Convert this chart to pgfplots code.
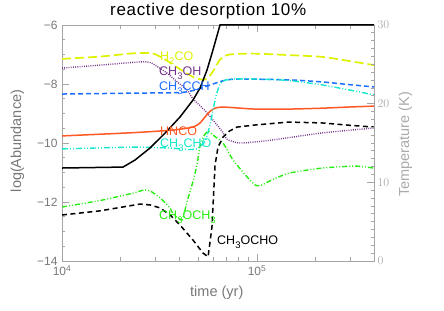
\documentclass[border=0pt]{standalone}
\usepackage{fontspec}
\setmainfont{Liberation Sans}
\usepackage{pgfplots}
\pgfplotsset{compat=1.18}
\definecolor{cHHCO}{RGB}{222,242,0}
\definecolor{cMeOH}{RGB}{118,52,140}
\definecolor{cCCH}{RGB}{30,110,255}
\definecolor{cHNCO}{RGB}{255,88,36}
\definecolor{cCHO}{RGB}{20,232,205}
\definecolor{cOCH}{RGB}{40,238,20}
\definecolor{axgray}{RGB}{165,165,165}
\definecolor{tickgray}{RGB}{120,120,120}
\definecolor{rgray}{RGB}{170,170,170}
\newcommand\lf{\fontsize{12.5bp}{14bp}\selectfont}
\newcommand\sub[1]{\raisebox{-4bp}{\fontsize{9.5bp}{10bp}\selectfont #1}}
\begin{document}
\begin{tikzpicture}
\useasboundingbox (0,0) rectangle (444bp,311bp);
\begin{axis}[
  at={(62bp,50bp)}, anchor=south west, scale only axis,
  width=312bp, height=236bp,
  xmode=log, xmin=1e4, xmax=3.981e5, ymin=-14, ymax=-6,
  xtick={1e4,1e5}, xticklabels={10\textsuperscript{4},10\textsuperscript{5}},
  minor xtick={2e4,3e4,4e4,5e4,6e4,7e4,8e4,9e4,2e5,3e5},
  ytick={-14,-12,-10,-8,-6}, yticklabels={−14,−12,−10,−8,−6},
  minor y tick num=3,
  ytick pos=left, tick align=inside,
  axis line style={draw=axgray, line width=0.8bp},
  tick style={draw=axgray, line width=0.8bp},
  major tick length=7bp, minor tick length=3.5bp,
  tick label style={font=\fontsize{12bp}{14bp}\selectfont, text=tickgray},
  yticklabel style={xshift=-1bp},
  xticklabel style={yshift=-1bp},
]
% H2CO
\addplot[cHHCO, line width=1.7bp, dash pattern=on 9bp off 4bp, smooth, tension=0.4] coordinates {
(10000,-7.15)(15670,-7.07)(23120,-6.96)(28260,-6.95)(30710,-7.02)(35810,-7.27)(40270,-7.50)(46960,-7.76)(51020,-7.84)(54080,-7.85)(57380,-7.72)(60920,-7.46)(64600,-7.17)(70170,-7.02)(78950,-6.98)(97720,-6.97)(145900,-7.02)(215400,-7.08)(296500,-7.22)(398100,-7.36)};
% CH3OH
\addplot[cMeOH, line width=1.4bp, dash pattern=on 0.9bp off 1.3bp, smooth, tension=0.4] coordinates {
(10000,-7.46)(15670,-7.36)(25120,-7.25)(28260,-7.27)(30710,-7.40)(34540,-7.63)(39000,-7.93)(43720,-8.20)(46960,-8.50)(54080,-8.90)(59430,-9.22)(66180,-9.60)(70170,-9.87)(78950,-9.99)(88920,-9.99)(119400,-9.90)(215400,-9.66)(398100,-9.49)};
% CH3CCH
\addplot[cCCH, line width=1.5bp, dash pattern=on 5bp off 3bp, smooth, tension=0.4] coordinates {
(10000,-8.34)(23120,-8.31)(40270,-8.29)(46960,-8.22)(51020,-8.15)(55400,-8.07)(59430,-8.0)(64600,-7.92)(70170,-7.86)(81820,-7.83)(145900,-7.86)(215400,-7.93)(296500,-8.02)(398100,-8.10)};
% HNCO
\addplot[cHNCO, line width=1.5bp, smooth, tension=0.4] coordinates {
(10000,-9.76)(23120,-9.65)(37090,-9.56)(46960,-9.46)(51020,-9.32)(54080,-9.12)(57380,-8.93)(60920,-8.82)(66180,-8.78)(78950,-8.81)(97720,-8.85)(145900,-8.85)(215400,-8.82)(296500,-8.78)(398100,-8.75)};
% CH3CHO
\addplot[cCHO, line width=1.4bp, dash pattern=on 6bp off 2bp on 1bp off 2bp on 1bp off 2bp, smooth, tension=0.3] coordinates {
(10000,-10.20)(23120,-10.14)(35810,-10.17)(43720,-10.22)(49210,-10.20)(54080,-9.95)(57380,-9.40)(59430,-8.90)(61640,-8.40)(64600,-8.00)(68000,-7.88)(75390,-7.83)(97720,-7.83)(145900,-7.88)(215400,-8.03)(318400,-8.24)(398100,-8.37)};
% CH3OCH3
\addplot[cOCH, line width=1.4bp, dash pattern=on 5bp off 2bp on 1bp off 2bp on 1bp off 2bp, smooth, tension=0.3] coordinates {
(10000,-12.17)(15670,-11.95)(23120,-11.70)(26000,-11.60)(28260,-11.62)(31840,-11.86)(35810,-12.20)(37090,-12.40)(41210,-12.61)(43720,-12.00)(46960,-11.30)(49210,-10.75)(51020,-10.10)(53500,-9.75)(56100,-9.60)(60000,-9.75)(66950,-10.00)(75390,-10.58)(88920,-11.15)(97720,-11.42)(103500,-11.45)(119400,-11.25)(145900,-11.02)(215400,-10.85)(318400,-10.78)(398100,-10.85)};
% CH3OCHO
\addplot[black, line width=1.5bp, dash pattern=on 5bp off 3.5bp] coordinates {
(10000,-12.44)(15670,-12.30)(25120,-12.07)(28260,-12.10)(31840,-12.20)(36000,-12.45)(40270,-12.78)(46960,-13.29)(52840,-13.73)(56100,-13.86)(58740,-12.85)(60920,-10.75)(63100,-10.14)(66950,-9.80)(72000,-9.60)(78950,-9.46)(97720,-9.39)(145900,-9.29)(215400,-9.32)(300000,-9.40)(398100,-9.46)};
\end{axis}
\begin{axis}[
  at={(62bp,50bp)}, anchor=south west, scale only axis,
  width=312bp, height=236bp,
  xmode=log, xmin=1e4, xmax=3.981e5, ymin=0, ymax=30,
  axis x line=none, axis y line*=right, clip=false,
  ytick={0,10,20,30}, minor y tick num=9, tick align=inside,
  axis line style={draw=axgray, line width=0.8bp},
  tick style={draw=axgray, line width=0.8bp},
  major tick length=7bp, minor tick length=3.5bp,
  tick label style={font=\fontsize{12bp}{14bp}\selectfont, text=rgray},
  yticklabel style={anchor=west, xshift=0bp},
]
\addplot[black, line width=1.5bp] coordinates {
(10000,11.82)(20560,11.94)(23660,12.83)(28260,14.36)(33750,16.26)(40270,18.30)(46960,20.46)(51020,21.98)(55400,24.27)(59430,26.81)(64600,30)(398100,30)};
\end{axis}
% titles and labels
\node[anchor=base west, inner sep=0, font=\fontsize{17bp}{20bp}\selectfont\addfontfeature{LetterSpace=4}] at (110bp,295bp) {reactive desorption 10\%};
\node[anchor=base west, inner sep=0, font=\fontsize{14.5bp}{17bp}\selectfont, text=tickgray] at (190bp,14.5bp) {time (yr)};
\node[anchor=base, rotate=90, inner sep=0, font=\fontsize{14.5bp}{17bp}\selectfont, text=tickgray] at (21bp,170bp) {log(Abundance)};
\node[anchor=base, rotate=90, inner sep=0, font=\fontsize{14.5bp}{17bp}\selectfont, text=rgray] at (409bp,166.5bp) {Temperature (K)};
% molecule labels
\node[anchor=base west, inner sep=0, font=\lf, text=cHHCO] at (160bp,250bp) {H\sub{2}CO};
\node[anchor=base west, inner sep=0, font=\lf, text=cMeOH] at (159bp,235bp) {CH\sub{3}OH};
\node[anchor=base west, inner sep=0, font=\lf, text=cCCH] at (159bp,220bp) {CH\sub{3}CCH};
\node[anchor=base west, inner sep=0, font=\lf, text=cHNCO] at (160bp,175.5bp) {HNCO};
\node[anchor=base west, inner sep=0, font=\lf, text=cCHO] at (160bp,163.5bp) {CH\sub{3}CHO};
\node[anchor=base west, inner sep=0, font=\lf, text=cOCH] at (159bp,91.5bp) {CH\sub{3}OCH\sub{3}};
\node[anchor=base west, inner sep=0, font=\lf, text=black] at (217bp,66.5bp) {CH\sub{3}OCHO};
\end{tikzpicture}
\end{document}
